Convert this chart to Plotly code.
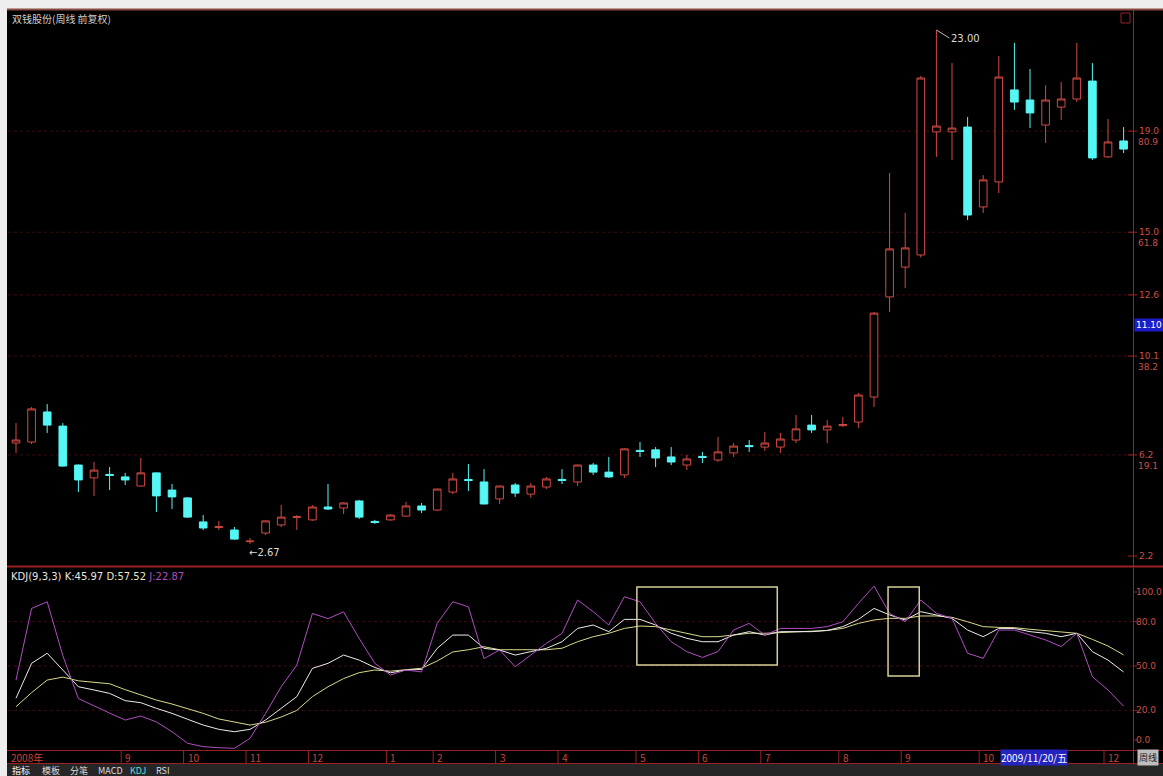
import plotly.graph_objects as go

W, H = 1163, 776

# ---------------- data ----------------
week_idx = list(range(72))

opens = [6.66, 6.70, 7.89, 7.33, 5.79, 5.28, 5.42, 5.32, 4.96, 5.48,
         4.80, 4.49, 3.54, 3.32, 3.22, 2.76, 3.10, 3.42, 3.72, 3.62,
         4.13, 4.09, 4.37, 3.56, 3.62, 3.77, 4.17, 4.01, 4.72, 5.22,
         5.12, 4.45, 5.00, 4.64, 4.92, 5.22, 5.12, 5.79, 5.51, 5.40,
         6.37, 6.39, 6.11, 5.79, 6.13, 5.99, 6.27, 6.56, 6.50, 6.50,
         6.78, 7.37, 7.18, 7.35, 7.49, 8.48, 12.44, 13.62, 14.10, 18.97,
         18.97, 19.16, 16.00, 16.99, 20.63, 20.23, 19.24, 19.95, 20.27, 20.98,
         17.98, 18.61]
highs = [7.45, 8.09, 8.20, 7.45, 5.81, 5.91, 5.71, 5.48, 6.07, 5.50,
         5.04, 4.52, 3.81, 3.58, 3.34, 2.90, 3.60, 4.21, 3.81, 4.20,
         5.04, 4.31, 4.41, 3.62, 3.85, 4.33, 4.29, 4.86, 5.48, 5.83,
         5.63, 4.98, 5.08, 5.08, 5.32, 5.63, 5.81, 5.87, 6.11, 6.45,
         6.70, 6.50, 6.50, 6.19, 6.31, 6.90, 6.66, 6.78, 7.10, 7.06,
         7.77, 7.77, 7.57, 7.69, 8.64, 11.84, 17.34, 15.76, 21.18, 23.00,
         21.69, 19.56, 17.26, 21.97, 22.49, 21.46, 20.82, 20.94, 22.49, 21.69,
         19.48, 19.16]
lows = [6.27, 6.62, 7.06, 5.72, 4.72, 4.57, 4.80, 5.00, 4.94, 3.93,
        4.05, 3.70, 3.22, 3.22, 2.84, 2.67, 3.02, 3.34, 3.22, 3.58,
        4.01, 3.85, 3.66, 3.46, 3.58, 3.75, 3.89, 3.98, 4.64, 4.76,
        4.23, 4.25, 4.53, 4.49, 4.84, 5.04, 4.96, 5.40, 5.28, 5.28,
        6.11, 5.71, 5.79, 5.59, 5.87, 5.91, 6.11, 6.31, 6.35, 6.27,
        6.66, 7.06, 6.66, 7.30, 7.26, 8.09, 11.84, 12.79, 14.00, 17.98,
        17.86, 15.48, 15.76, 16.55, 19.84, 19.12, 18.53, 19.44, 20.15, 17.86,
        17.94, 18.13]
closes = [6.78, 8.01, 7.37, 5.75, 5.20, 5.59, 5.38, 5.20, 5.48, 4.57,
          4.53, 3.73, 3.30, 3.35, 2.86, 2.78, 3.58, 3.73, 3.75, 4.13,
          4.05, 4.29, 3.73, 3.52, 3.81, 4.17, 4.01, 4.84, 5.24, 5.18,
          4.25, 4.96, 4.68, 4.96, 5.24, 5.18, 5.79, 5.51, 5.32, 6.43,
          6.33, 6.07, 5.91, 6.03, 6.09, 6.31, 6.54, 6.52, 6.66, 6.82,
          7.22, 7.18, 7.33, 7.39, 8.56, 11.80, 14.34, 14.38, 21.10, 19.20,
          19.12, 15.68, 17.07, 21.14, 20.15, 19.72, 20.23, 20.27, 21.10, 17.94,
          18.57, 18.29]

k_vals = [28.2, 51.8, 58.6, 47.0, 36.0, 33.8, 31.5, 26.6, 25.2, 21.4,
          18.0, 14.0, 10.1, 7.2, 5.6, 7.2, 13.5, 21.4, 29.3, 48.4,
          51.8, 57.4, 54.0, 49.0, 45.4, 47.3, 47.7, 61.9, 70.9, 70.9,
          61.9, 60.8, 57.4, 59.7, 61.9, 66.4, 75.4, 77.7, 73.2, 81.5,
          81.5, 77.7, 72.1, 68.7, 66.4, 66.4, 70.9, 73.2, 70.9, 73.2,
          73.2, 73.2, 74.0, 76.6, 81.5, 88.9, 84.5, 81.1, 86.7, 84.5,
          82.2, 74.3, 69.8, 75.4, 75.4, 73.2, 72.1, 69.8, 72.1, 59.7,
          54.0, 45.97]
d_vals = [22.5, 32.0, 40.5, 42.5, 40.0, 39.0, 38.0, 34.0, 30.5, 27.0,
          24.3, 21.4, 18.0, 14.2, 12.0, 10.1, 12.0, 15.5, 20.0, 29.3,
          36.0, 41.5, 45.5, 47.3, 46.5, 47.3, 48.5, 53.4, 59.5, 61.0,
          63.0, 61.0, 61.0, 60.8, 61.0, 62.0, 66.4, 69.8, 72.1, 75.4,
          77.0, 76.6, 74.3, 72.1, 69.8, 69.8, 70.9, 72.1, 72.1, 72.5,
          73.2, 73.5, 74.0, 75.4, 78.8, 81.1, 82.2, 82.2, 83.8, 83.8,
          82.9, 79.9, 76.6, 76.1, 75.9, 74.8, 73.9, 72.5, 72.1, 68.0,
          63.5, 57.52]
j_vals = [40.5, 88.9, 93.4, 57.0, 28.0, 22.9, 18.2, 13.5, 16.2, 12.2,
          5.6, -2.2, -4.5, -5.2, -5.6, 1.1, 18.0, 36.0, 50.6, 85.5,
          82.0, 86.6, 68.6, 51.8, 43.9, 47.3, 46.0, 78.8, 93.4, 90.0,
          55.0, 60.8, 49.5, 57.4, 65.3, 72.0, 94.6, 86.7, 77.7, 96.8,
          93.4, 78.8, 66.4, 59.7, 55.8, 59.7, 74.3, 78.8, 70.9, 75.4,
          75.4, 75.4, 76.6, 79.9, 92.3, 104.0, 85.6, 79.9, 94.6, 85.6,
          82.2, 58.6, 55.2, 74.3, 74.3, 70.9, 67.6, 63.1, 72.1, 42.8,
          33.8, 22.87]

month_text = ["2008年", "9", "10", "11", "12", "1", "2", "3", "4",
              "5", "6", "7", "8", "9", "10", "12"]
month_pos = [-0.3, 7, 11, 15, 19, 24, 27, 31, 35, 40, 44, 48, 53, 57, 62, 70]

price_labels = ["19.0", "15.0", "12.6", "10.1", "6.2", "2.2"]
price_label_vals = [19.0, 15.0, 12.52, 10.1, 6.19, 2.19]
ratio_labels = ["80.9", "61.8", "", "38.2", "19.1", ""]
kdj_ticks = [100, 80, 50, 20, 0]
kdj_tick_text = ["100.0", "80.0", "50.0", "20.0", "0.0"]

# highlight boxes on the KDJ pane: (x0, x1, y0, y1) in week index / KDJ value
kdj_boxes = [(39.8, 48.8, 50.7, 103.4), (55.9, 57.9, 43.2, 103.4)]

# ---------------- layout helpers ----------------
def px_x(p):
    return p / W

def px_y(p):
    return 1 - p / H

RED = "#d24a44"
CYAN = "#55f7f5"
GRID = "#3a0e0e"
AXRED = "#9c2222"
LABRED = "#c8504a"

x_range = [(8 - 16) / 15.6, (1133 - 16) / 15.6]

fig = go.Figure()

fig.add_trace(go.Candlestick(
    x=week_idx, open=opens, high=highs, low=lows, close=closes,
    increasing=dict(line=dict(color=RED, width=1), fillcolor="#000000"),
    decreasing=dict(line=dict(color=CYAN, width=1), fillcolor=CYAN),
    whiskerwidth=0, hoverinfo="skip", showlegend=False,
    xaxis="x", yaxis="y"))

fig.add_trace(go.Scatter(x=week_idx, y=d_vals, mode="lines",
                         line=dict(color="#d9d98a", width=1),
                         xaxis="x2", yaxis="y2", showlegend=False, hoverinfo="skip"))
fig.add_trace(go.Scatter(x=week_idx, y=k_vals, mode="lines",
                         line=dict(color="#ececec", width=1),
                         xaxis="x2", yaxis="y2", showlegend=False, hoverinfo="skip"))
fig.add_trace(go.Scatter(x=week_idx, y=j_vals, mode="lines",
                         line=dict(color="#b04ec0", width=1),
                         xaxis="x2", yaxis="y2", showlegend=False, hoverinfo="skip"))

ax_common = dict(showgrid=False, zeroline=False, showticklabels=False,
                 showline=False, ticks="", fixedrange=True)

fig.update_layout(
    width=W, height=H,
    margin=dict(l=0, r=0, t=0, b=0),
    paper_bgcolor="#eeeeee", plot_bgcolor="#000000",
    boxgap=0.3,
    xaxis=dict(domain=[px_x(8), px_x(1133)], range=x_range,
               rangeslider=dict(visible=False), anchor="y", **ax_common),
    yaxis=dict(domain=[px_y(565), px_y(10)],
               range=[24.187 - 0.03956 * 565, 24.187 - 0.03956 * 10],
               anchor="x", **ax_common),
    xaxis2=dict(domain=[px_x(8), px_x(1133)], range=x_range, anchor="y2", **ax_common),
    yaxis2=dict(domain=[px_y(750), px_y(568)],
                range=[(740 - 750) / 1.48, (740 - 568) / 1.48],
                anchor="x2", **ax_common),
    font=dict(family="DejaVu Sans, Noto Sans CJK SC", size=10, color="#d0d0d0"),
)

shapes = []
# black chart canvas (leaves light page edges at top and left)
shapes.append(dict(type="rect", xref="paper", yref="paper", x0=px_x(7), x1=1,
                   y0=0, y1=px_y(9), fillcolor="#000000", line=dict(width=0), layer="below"))
# top border
shapes.append(dict(type="line", xref="paper", yref="paper", x0=px_x(7), x1=1,
                   y0=px_y(9.5), y1=px_y(9.5), line=dict(color="#8a4a40", width=2)))
# main panel grid (dotted)
for v in price_label_vals[:-1]:
    shapes.append(dict(type="line", xref="paper", yref="y", x0=px_x(8), x1=px_x(1133),
                       y0=v, y1=v, line=dict(color=GRID, width=1, dash="dot"), layer="below"))
# KDJ grid
for v in [80, 50, 20]:
    shapes.append(dict(type="line", xref="paper", yref="y2", x0=px_x(8), x1=px_x(1133),
                       y0=v, y1=v, line=dict(color=GRID, width=1, dash="dot"), layer="below"))
# panel divider
shapes.append(dict(type="line", xref="paper", yref="paper", x0=px_x(7), x1=1,
                   y0=px_y(566.5), y1=px_y(566.5), line=dict(color=AXRED, width=2)))
# right axis vertical line
shapes.append(dict(type="line", xref="paper", yref="paper", x0=px_x(1133.5), x1=px_x(1133.5),
                   y0=px_y(763), y1=px_y(10), line=dict(color=AXRED, width=1)))
# date strip lines
for yy in [750.5, 763.5]:
    shapes.append(dict(type="line", xref="paper", yref="paper", x0=px_x(7), x1=1,
                       y0=px_y(yy), y1=px_y(yy), line=dict(color=AXRED, width=1)))
# bottom tab bar
shapes.append(dict(type="rect", xref="paper", yref="paper", x0=px_x(7), x1=1,
                   y0=0, y1=px_y(764), fillcolor="#262626", line=dict(width=0)))
# small box at top right
shapes.append(dict(type="rect", xref="paper", yref="paper", x0=px_x(1121), x1=px_x(1130),
                   y0=px_y(23), y1=px_y(13), line=dict(color=AXRED, width=1)))
# right axis tick marks
for v in price_label_vals:
    shapes.append(dict(type="line", xref="paper", yref="y", x0=px_x(1128), x1=px_x(1137),
                       y0=v, y1=v, line=dict(color=AXRED, width=1)))
for v in kdj_ticks:
    shapes.append(dict(type="line", xref="paper", yref="y2", x0=px_x(1133), x1=px_x(1137),
                       y0=v, y1=v, line=dict(color=AXRED, width=1)))
# month separators in the date strip
for p in month_pos[1:]:
    xx = 16 + 15.6 * p - 4
    shapes.append(dict(type="line", xref="paper", yref="paper", x0=px_x(xx), x1=px_x(xx),
                       y0=px_y(763), y1=px_y(751), line=dict(color=AXRED, width=1)))
# KDJ highlight boxes
for (x0, x1, y0, y1) in kdj_boxes:
    shapes.append(dict(type="rect", xref="x2", yref="y2", x0=x0, x1=x1, y0=y0, y1=y1,
                       line=dict(color="#d8cf98", width=1.5)))
fig.update_layout(shapes=shapes)

ann = []
ann.append(dict(xref="paper", yref="paper", x=px_x(10), y=px_y(18), xanchor="left",
                yanchor="middle", showarrow=False, text="双钱股份(周线 前复权)",
                font=dict(size=10, color="#cfcfcf", family="Noto Sans CJK SC")))
ann.append(dict(xref="paper", yref="paper", x=px_x(9), y=px_y(576), xanchor="left",
                yanchor="middle", showarrow=False,
                text=("<span style='color:#e6e6e6'>KDJ(9,3,3) K:45.97</span> "
                      "<span style='color:#e6e6c8'>D:57.52</span> "
                      "<span style='color:#b04ec0'>J:22.87</span>"),
                font=dict(size=10)))
# price extremes
ann.append(dict(xref="x", yref="y", x=59, y=23.0, ax=13, ay=8, xanchor="left",
                yanchor="middle", showarrow=True, arrowhead=0, arrowwidth=1,
                arrowcolor="#bbbbbb", text="23.00", font=dict(size=10, color="#dddddd")))
ann.append(dict(xref="x", yref="y", x=15, y=2.67, xanchor="left", yanchor="top",
                xshift=-3, yshift=-1, showarrow=False, text="←2.67",
                font=dict(size=10, color="#dddddd")))
# right axis price labels
for t, v, r in zip(price_labels, price_label_vals, ratio_labels):
    ann.append(dict(xref="paper", yref="y", x=px_x(1137), y=v, xanchor="left",
                    yanchor="middle", showarrow=False, text=t,
                    font=dict(size=9, color=LABRED)))
    if r:
        ann.append(dict(xref="paper", yref="y", x=px_x(1136), y=v, yshift=-11,
                        xanchor="left", yanchor="middle", showarrow=False, text=r,
                        font=dict(size=9, color=LABRED)))
# current price box
ann.append(dict(xref="paper", yref="paper", x=px_x(1134), y=px_y(325), xanchor="left",
                yanchor="middle", showarrow=False, text="11.10",
                bgcolor="#1c1cc8", borderpad=1, font=dict(size=9, color="#ffffff")))
# KDJ axis labels
for t, v in zip(kdj_tick_text, kdj_ticks):
    ann.append(dict(xref="paper", yref="y2", x=px_x(1134), y=v, xanchor="left",
                    yanchor="middle", showarrow=False, text=t,
                    font=dict(size=9, color=LABRED)))
# month labels
for t, p in zip(month_text, month_pos):
    ann.append(dict(xref="x2", yref="paper", x=p, y=px_y(757), xanchor="left",
                    xshift=-2, yanchor="middle", showarrow=False, text=t,
                    font=dict(size=10, color="#c8453f", family="Noto Sans CJK SC")))
ann.append(dict(xref="paper", yref="paper", x=px_x(1000), y=px_y(757), xanchor="left",
                yanchor="middle", showarrow=False, text="2009/11/20/五",
                bgcolor="#2424c0", borderpad=0,
                font=dict(size=10, color="#ffffff", family="Noto Sans CJK SC")))
ann.append(dict(xref="paper", yref="paper", x=px_x(1137), y=px_y(757), xanchor="left",
                yanchor="middle", showarrow=False, text="周线", bgcolor="#bdbdbd",
                font=dict(size=9, color="#202020", family="Noto Sans CJK SC")))
# bottom tabs
tabs = ["指标", "模板", "分笔", "MACD", "KDJ", "RSI"]
tab_x = [10, 40, 68, 96, 128, 154]
tab_col = ["#ffffff", "#dddddd", "#dddddd", "#dddddd", "#56e0e0", "#dddddd"]
for t, xx, c in zip(tabs, tab_x, tab_col):
    ann.append(dict(xref="paper", yref="paper", x=px_x(xx), y=px_y(770), xanchor="left",
                    yanchor="middle", showarrow=False, text=t,
                    font=dict(size=9, color=c, family="Noto Sans CJK SC")))
fig.update_layout(annotations=ann)

fig.write_html(
    "out.html",
    config={"displayModeBar": False},
    post_script="document.body.style.margin='0';document.body.style.overflow='hidden';",
)
